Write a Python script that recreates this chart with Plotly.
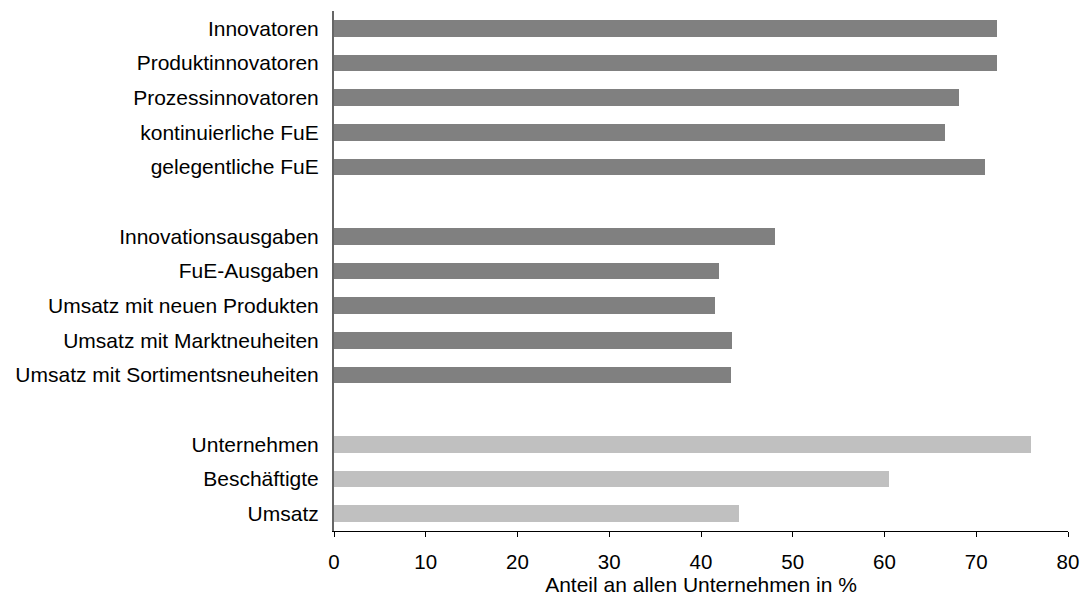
import plotly.graph_objects as go

# Data
group1_labels = ["Innovatoren", "Produktinnovatoren", "Prozessinnovatoren",
                 "kontinuierliche FuE", "gelegentliche FuE"]
group1_values = [72.3, 72.3, 68.1, 66.6, 70.9]

group2_labels = ["Innovationsausgaben", "FuE-Ausgaben", "Umsatz mit neuen Produkten",
                 "Umsatz mit Marktneuheiten", "Umsatz mit Sortimentsneuheiten"]
group2_values = [48.1, 42.0, 41.5, 43.4, 43.3]

group3_labels = ["Unternehmen", "Beschäftigte", "Umsatz"]
group3_values = [76.0, 60.5, 44.1]

x_ticks = [0, 10, 20, 30, 40, 50, 60, 70, 80]
x_title = "Anteil an allen Unternehmen in %"

DARK = "#808080"
LIGHT = "#C0C0C0"

# slot positions (with one empty slot between groups)
pos1 = list(range(0, len(group1_labels)))
pos2 = [p + len(group1_labels) + 1 for p in range(len(group2_labels))]
pos3 = [p + pos2[-1] + 2 for p in range(len(group3_labels))]

fig = go.Figure()
fig.add_trace(go.Bar(x=group1_values + group2_values, y=pos1 + pos2, orientation="h",
                     marker=dict(color=DARK, line=dict(width=0)), width=0.49,
                     showlegend=False))
fig.add_trace(go.Bar(x=group3_values, y=pos3, orientation="h",
                     marker=dict(color=LIGHT, line=dict(width=0)), width=0.49,
                     showlegend=False))

font = dict(family="Liberation Sans, Arial, sans-serif", size=21, color="#000000")
tfont = dict(family="Liberation Sans, Arial, sans-serif", size=20.5, color="#000000")

fig.update_layout(
    width=1085, height=596,
    margin=dict(l=334, r=17, t=11, b=65, autoexpand=False),
    paper_bgcolor="white", plot_bgcolor="white",
    font=font,
    xaxis=dict(range=[0, 80], tickvals=x_ticks, ticks="outside", ticklen=5,
               tickcolor="#000000", showline=True, linecolor="#000000", linewidth=1.2,
               showgrid=False, zeroline=False, ticklabelstandoff=7, automargin=False,
               title=dict(text=x_title, standoff=3, font=font),
               tickfont=tfont),
    yaxis=dict(range=[pos3[-1] + 0.5, -0.5], tickvals=pos1 + pos2 + pos3,
               ticktext=group1_labels + group2_labels + group3_labels,
               ticks="", showline=True, linecolor="#666666", linewidth=2,
               showgrid=False, zeroline=False, ticklabelstandoff=9, automargin=False,
               tickfont=font),
    bargap=0,
)

fig.write_html("out.html", config={"displayModeBar": False},
               post_script="document.body.style.margin='0';")
